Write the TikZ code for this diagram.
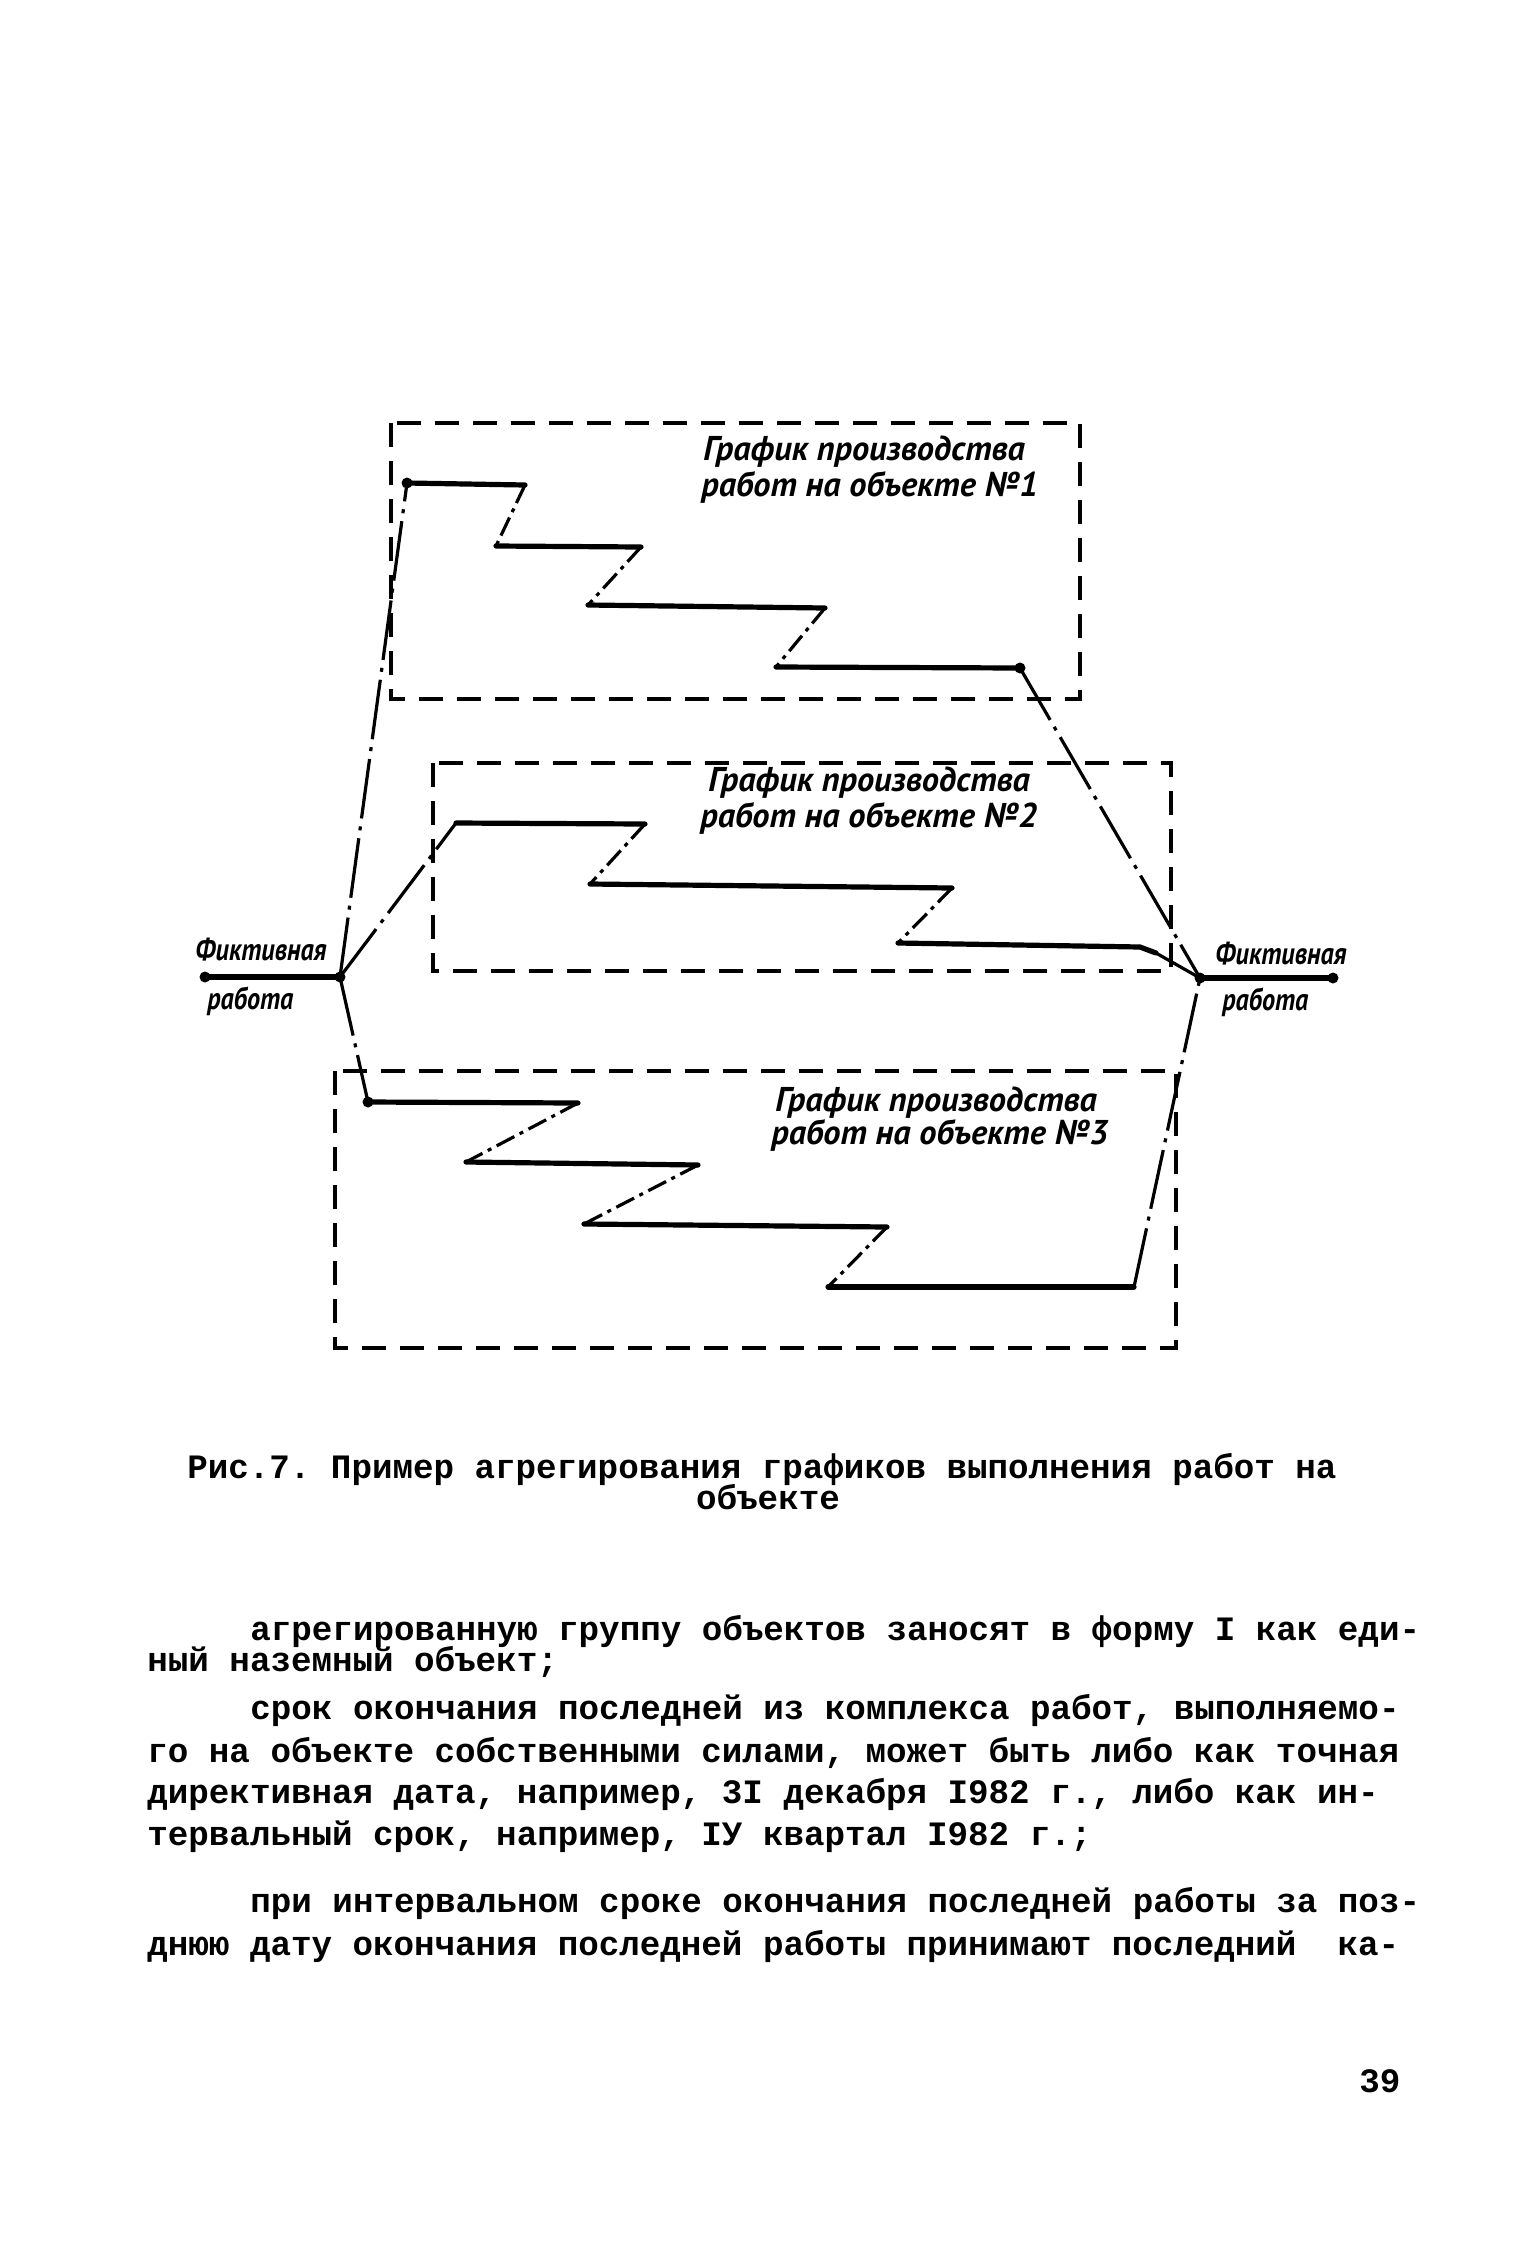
\documentclass[tikz,border=0pt]{standalone}
\usepackage{fontspec}
\setmainfont{Liberation Serif}
\newfontfamily\hand{PT Sans}
\newfontfamily\handn{PT Sans}[FakeStretch=0.84]
\newfontfamily\tw{Liberation Mono}
\frenchspacing
\begin{document}
\begin{tikzpicture}[x=0.5pt,y=-0.5pt,
  box/.style={line width=1.9pt, dash pattern=on 12pt off 7pt},
  work/.style={line width=2.6pt, line cap=round, line join=round},
  diag/.style={line width=1.6pt, dash pattern=on 10pt off 3pt on 2pt off 3pt},
  conn/.style={line width=1.6pt, dash pattern=on 30pt off 4pt on 2pt off 4pt},
  dot/.style={circle, fill, inner sep=0pt, minimum size=5.5pt},
  hw/.style={font=\hand\bfseries\itshape\fontsize{17.2}{18}\selectfont, inner sep=0pt, anchor=west},
  hwn/.style={font=\handn\bfseries\itshape\fontsize{15.6}{18}\selectfont, inner sep=0pt, anchor=west},
  tt/.style={font=\tw\bfseries\fontsize{17.1}{20}\selectfont, inner sep=0pt, anchor=west, text height=12pt, text depth=3pt}]
\useasboundingbox[fill=white] (0,0) rectangle (1535,2244);

% dashed boxes
\draw[box] (391,423) rectangle (1080,699);
\draw[box] (433,763) rectangle (1171,971);
\draw[box] (335,1071) rectangle (1176,1348);

% labels in boxes
\node[hw] (t1a) at (703,452) {График производства};
\node[hw] (t1b) at (701,487) {работ на объекте №1};
\node[hw] (t2a) at (708,783) {График производства};
\node[hw] (t2b) at (700,818) {работ на объекте №2};
\node[hw] (t3a) at (775,1103) {График производства};
\node[hw] (t3b) at (771,1135) {работ на объекте №3};

% staircase 1
\node[dot] (s1s) at (407,483) {};
\coordinate (s1b) at (525,485);
\coordinate (s1c) at (496,546);
\coordinate (s1d) at (641,547);
\coordinate (s1e) at (588,605);
\coordinate (s1f) at (825,608);
\coordinate (s1g) at (776,667);
\node[dot] (s1t) at (1020,668) {};
\draw[work] (s1s.center) -- (s1b);
\draw[diag] (s1b) -- (s1c);
\draw[work] (s1c) -- (s1d);
\draw[diag] (s1d) -- (s1e);
\draw[work] (s1e) -- (s1f);
\draw[diag] (s1f) -- (s1g);
\draw[work] (s1g) -- (s1t.center);

% staircase 2
\coordinate (s2s) at (456,823);
\coordinate (s2b) at (645,824);
\coordinate (s2c) at (590,884);
\coordinate (s2d) at (952,888);
\coordinate (s2e) at (898,943);
\coordinate (s2f) at (1140,947);
\coordinate (s2t) at (1156,953);
\draw[work] (s2s) -- (s2b);
\draw[diag] (s2b) -- (s2c);
\draw[work] (s2c) -- (s2d);
\draw[diag] (s2d) -- (s2e);
\draw[work] (s2e) -- (s2f) -- (s2t);

% staircase 3
\node[dot] (s3s) at (368,1102) {};
\coordinate (s3b) at (578,1103);
\coordinate (s3c) at (466,1162);
\coordinate (s3d) at (698,1165);
\coordinate (s3e) at (584,1224);
\coordinate (s3f) at (887,1227);
\coordinate (s3g) at (828,1287);
\coordinate (s3t) at (1134,1287);
\draw[work] (s3s.center) -- (s3b);
\draw[diag] (s3b) -- (s3c);
\draw[work] (s3c) -- (s3d);
\draw[diag] (s3d) -- (s3e);
\draw[work] (s3e) -- (s3f);
\draw[diag] (s3f) -- (s3g);
\draw[work] (s3g) -- (s3t);

% fictive works
\node[dot] (L) at (340,977) {};
\node[dot] (Ld) at (205,977) {};
\node[dot] (R) at (1200,978) {};
\node[dot] (Rd) at (1333,978) {};
\draw[work] (Ld.center) -- (L.center);
\draw[work] (R.center) -- (Rd.center);
\node[hwn] (fl1) at (195,950) {Фиктивная};
\node[hwn] (fl2) at (207,1001) {работа};
\node[hwn] (fr1) at (1215,954) {Фиктивная};
\node[hwn] (fr2) at (1222,1002) {работа};

% connectors
\draw[conn] (L.center) -- (s1s.center);
\draw[conn] (L.center) -- (s2s);
\draw[conn] (L.center) -- (s3s.center);
\draw[conn] (s1t.center) -- (R.center);
\draw[conn] (s2t) -- (R.center);
\draw[conn] (s3t) -- (R.center);

% caption
\node[tt, anchor=center] (cap1) at (762,1469) {Рис.7. Пример агрегирования графиков выполнения работ на};
\node[tt, anchor=center] (cap2) at (768,1500) {объекте};

% body text
\node[tt] (b1) at (250,1631) {агрегированную группу объектов заносят в форму I как еди-};
\node[tt] (b2) at (147,1662) {ный наземный объект;};
\node[tt] (b3) at (250,1710) {срок окончания последней из комплекса работ, выполняемо-};
\node[tt] (b4) at (147,1753) {го на объекте собственными силами, может быть либо как точная};
\node[tt] (b5) at (147,1794) {директивная дата, например, 3I декабря I982 г., либо как ин-};
\node[tt] (b6) at (147,1836) {тервальный срок, например, IУ квартал I982 г.;};
\node[tt] (b7) at (250,1903) {при интервальном сроке окончания последней работы за поз-};
\node[tt] (b8) at (147,1946) {днюю дату окончания последней работы принимают последний~ ка-};
\node[tt] (pg) at (1359,2083) {39};
\end{tikzpicture}
\end{document}
